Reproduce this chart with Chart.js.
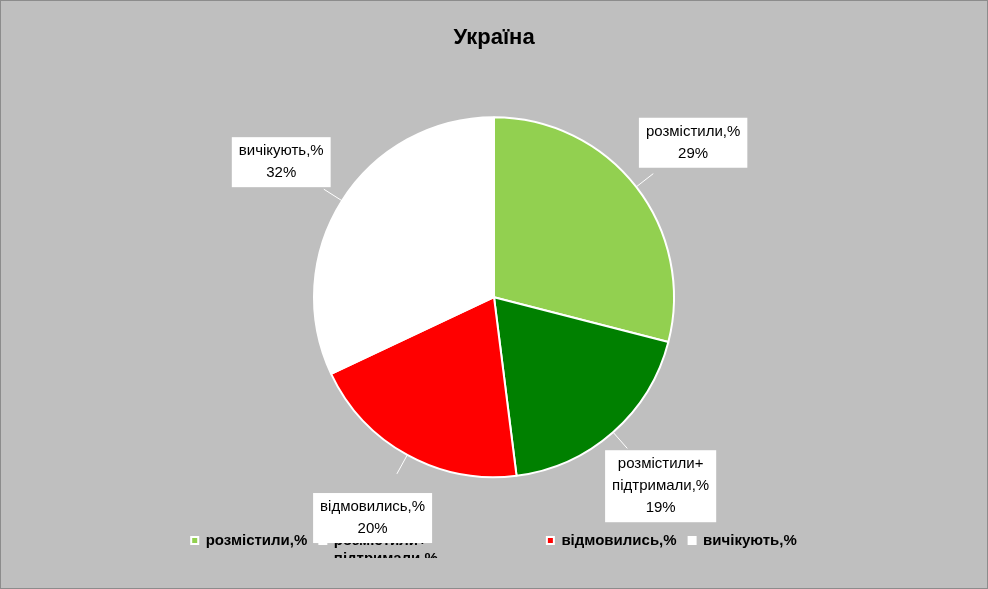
<!DOCTYPE html>
<html><head><meta charset="utf-8">
<script src="https://cdn.jsdelivr.net/npm/chart.js@4/dist/chart.umd.min.js"></script>
<style>
html,body{margin:0;padding:0;background:#bfbfbf;}
#wrap{width:986px;height:587px;border:1px solid #8c8c8c;}
</style></head><body>
<div id="wrap"><canvas id="chart" width="986" height="587"></canvas></div>
<script>
// chart data
const labels = ['розмістили,%', ['розмістили+', 'підтримали,%'], 'відмовились,%', 'вичікують,%'];
const calloutNames = [['розмістили,%'], ['розмістили+', 'підтримали,%'], ['відмовились,%'], ['вичікують,%']];
const values = [29, 19, 20, 32];
const colors = ['#92d050', '#008000', '#ff0000', '#ffffff'];

// draws the white callout boxes around the pie
const callouts = {
    id: 'callouts',
    afterDatasetsDraw(chart) {
        const c = chart.ctx;
        const meta = chart.getDatasetMeta(0);
        c.save();
        c.font = '15px "Liberation Sans", Arial';
        c.textAlign = 'center';
        c.textBaseline = 'middle';
        meta.data.forEach((arc, i) => {
            const mid = (arc.startAngle + arc.endAngle) / 2;
            const r = arc.outerRadius;
            const lines = calloutNames[i].concat([values[i] + '%']);
            const bx = arc.x + Math.cos(mid) * r * 1.4;
            const by = arc.y + Math.sin(mid) * r * 1.4;
            const w = Math.max(...lines.map(l => c.measureText(l).width)) + 14;
            const h = lines.length * 22 + 6;
            // leader line
            c.strokeStyle = '#ffffff';
            c.lineWidth = 1;
            c.beginPath();
            c.moveTo(arc.x + Math.cos(mid) * r, arc.y + Math.sin(mid) * r);
            c.lineTo(arc.x + Math.cos(mid) * r * 1.12, arc.y + Math.sin(mid) * r * 1.12);
            c.stroke();
            c.fillStyle = '#ffffff';
            c.fillRect(bx - w / 2, by - h / 2, w, h);
            c.fillStyle = '#000000';
            lines.forEach((l, k) => c.fillText(l, bx, by - h / 2 + 14 + k * 22));
        });
        c.restore();
    }
};

const ctx = document.getElementById('chart').getContext('2d');
new Chart(ctx, {
    type: 'pie',
    data: {
        labels: labels,
        datasets: [{
            data: values,
            backgroundColor: colors,
            borderColor: '#ffffff',
            borderWidth: 2,
            radius: 180
        }]
    },
    options: {
        responsive: false,
        animation: false,
        layout: { padding: { top: 10, bottom: 30 } },
        plugins: {
            title: {
                display: true,
                text: 'Україна',
                color: '#000',
                font: { size: 22, weight: 'bold', family: '"Liberation Sans", Arial' },
                padding: { top: 14, bottom: 22 }
            },
            legend: {
                position: 'bottom',
                labels: {
                    color: '#000',
                    boxWidth: 7,
                    boxHeight: 7,
                    padding: 12,
                    font: { size: 15, weight: 'bold', family: '"Liberation Sans", Arial' }
                }
            },
            tooltip: { enabled: false }
        }
    },
    plugins: [callouts]
});
</script>
</body></html>
